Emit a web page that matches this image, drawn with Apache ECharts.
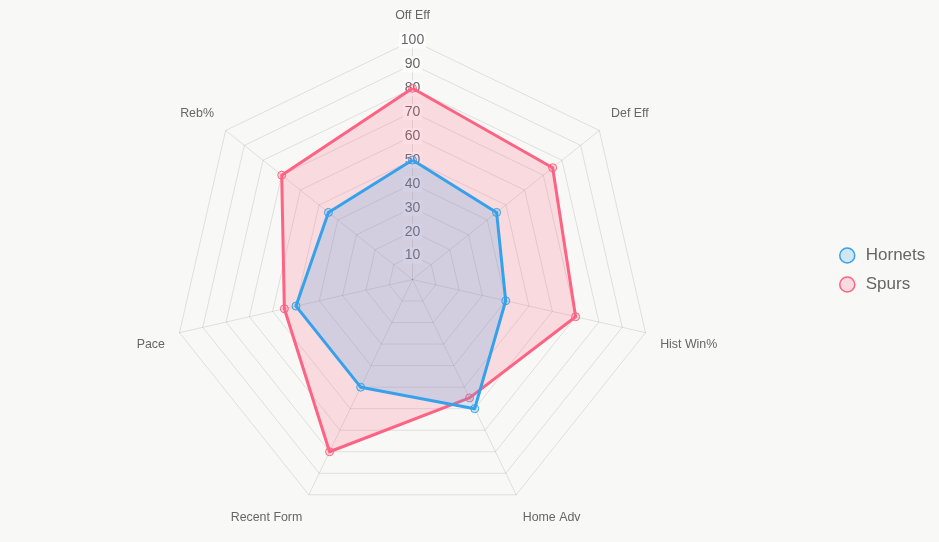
<!DOCTYPE html>
<html>
<head>
<meta charset="utf-8">
<script src="https://cdn.jsdelivr.net/npm/echarts@6/dist/echarts.min.js"></script>
<style>
html,body{margin:0;padding:0;background:#f8f8f6;}
#chart{width:939px;height:542px;}
</style>
</head>
<body>
<div id="chart"></div>
<script>
// Indicators in clockwise order starting from the top
var categories = ['Off Eff', 'Def Eff', 'Hist Win%', 'Home Adv', 'Recent Form', 'Pace', 'Reb%'];
var hornets = [50, 45, 40, 60, 50, 50, 45];
var spurs = [80, 75, 70, 55, 80, 55, 70];
var tickMax = 100;
var tickStep = 10;

// ECharts radar runs counter-clockwise: reorder to keep the clockwise layout
function toCCW(arr) { return [arr[0]].concat(arr.slice(1).reverse()); }

var namePad = {
  'Off Eff': [0, 0, 4, 0],
  'Def Eff': [0, 0, 16, 0],
  'Reb%': [0, 0, 16, 0],
  'Hist Win%': [18, 0, 0, 0],
  'Pace': [18, 0, 0, 0],
  'Home Adv': [18, 0, 0, 0],
  'Recent Form': [18, 0, 0, 0]
};

var indicator = toCCW(categories).map(function (c, i) {
  var o = { name: c, min: 0, max: tickMax };
  if (i > 0) o.axisLabel = { show: false };
  return o;
});

var rich = {};
categories.forEach(function (c, i) {
  rich['n' + i] = { fontSize: 12.4, color: '#666', fontFamily: 'Liberation Sans, Arial, sans-serif', padding: namePad[c] };
});

var chart = echarts.init(document.getElementById('chart'));
chart.setOption({
  backgroundColor: '#f8f8f6',
  animation: false,
  legend: {
    orient: 'vertical',
    left: 834,
    top: 242,
    itemWidth: 27,
    itemHeight: 15,
    itemGap: 12,
    textStyle: { fontSize: 17, color: '#666', fontFamily: 'Liberation Sans, Arial, sans-serif' },
    data: [
      { name: 'Hornets', icon: 'circle', itemStyle: { color: 'rgba(54,162,235,0.2)', borderColor: '#36A2EB', borderWidth: 1.5 } },
      { name: 'Spurs', icon: 'circle', itemStyle: { color: 'rgba(255,99,132,0.2)', borderColor: '#FF6384', borderWidth: 1.5 } }
    ]
  },
  radar: {
    center: [412.5, 279.5],
    radius: 239,
    startAngle: 90,
    shape: 'polygon',
    splitNumber: tickMax / tickStep,
    nameGap: 15,
    indicator: indicator,
    axisName: {
      formatter: function (name) {
        return '{n' + categories.indexOf(name) + '|' + name + '}';
      },
      rich: rich
    },
    axisLine: { lineStyle: { color: 'rgba(0,0,0,0.1)', width: 1 } },
    splitLine: { lineStyle: { color: 'rgba(0,0,0,0.1)', width: 1 } },
    splitArea: { show: false },
    axisTick: { show: false },
    axisLabel: {
      show: true,
      showMinLabel: false,
      margin: 0,
      align: 'center',
      verticalAlign: 'middle',
      fontSize: 14,
      color: '#666',
      fontFamily: 'Liberation Sans, Arial, sans-serif',
      backgroundColor: 'rgba(255,255,255,0.75)',
      padding: [1, 2]
    }
  },
  series: [
    {
      name: 'Spurs',
      type: 'radar',
      z: 2,
      symbol: 'circle',
      symbolSize: 8,
      lineStyle: { color: '#FF6384', width: 3 },
      itemStyle: { color: 'rgba(255,99,132,0.2)', borderColor: '#FF6384', borderWidth: 1 },
      areaStyle: { color: 'rgba(255,99,132,0.2)', opacity: 1 },
      data: [{ name: 'Spurs', value: toCCW(spurs) }]
    },
    {
      name: 'Hornets',
      type: 'radar',
      z: 3,
      symbol: 'circle',
      symbolSize: 8,
      lineStyle: { color: '#36A2EB', width: 3 },
      itemStyle: { color: 'rgba(54,162,235,0.2)', borderColor: '#36A2EB', borderWidth: 1 },
      areaStyle: { color: 'rgba(54,162,235,0.2)', opacity: 1 },
      data: [{ name: 'Hornets', value: toCCW(hornets) }]
    }
  ]
});
</script>
</body>
</html>
